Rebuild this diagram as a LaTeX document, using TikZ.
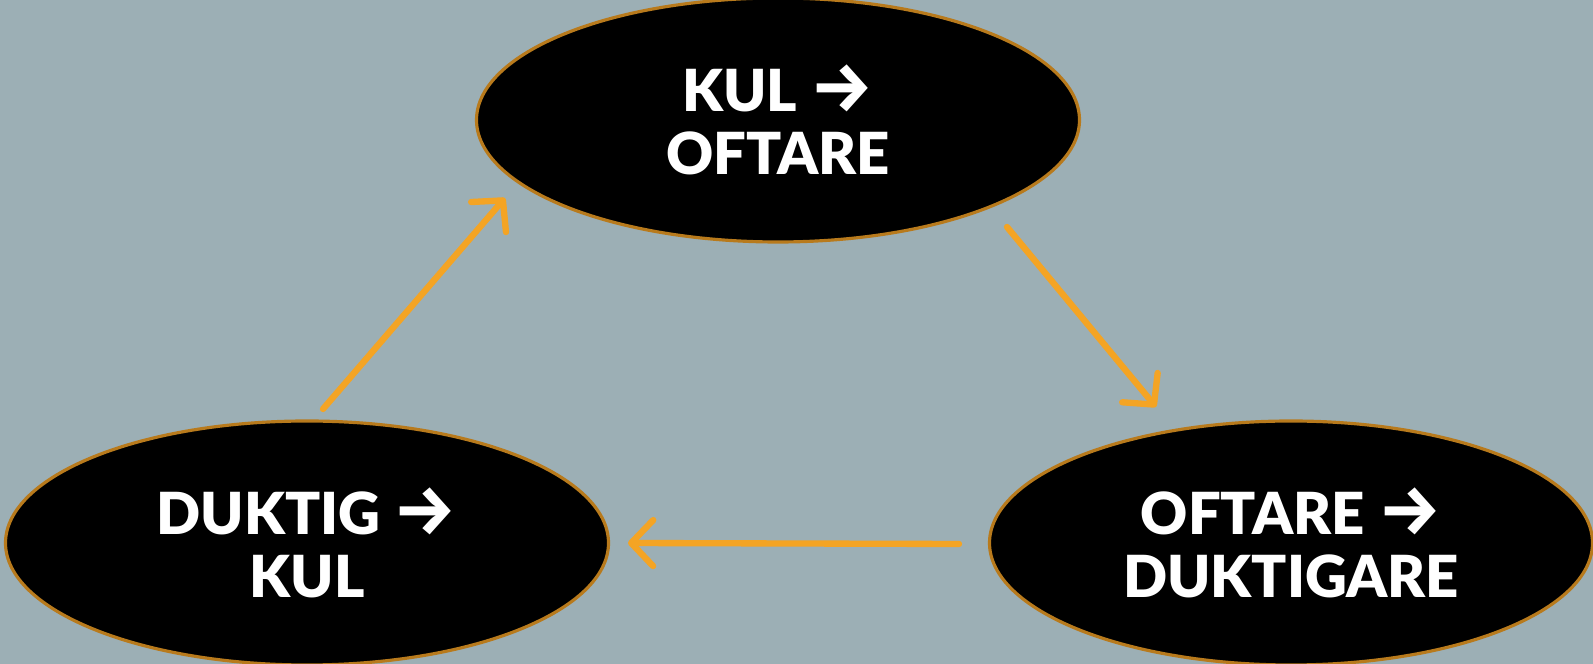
\documentclass[tikz,border=0pt]{standalone}
\usepackage{fontspec}
\setmainfont{Lato}[BoldFont={Lato Black}]
\newfontfamily\symfont{Fira Sans}
\usetikzlibrary{shapes,arrows.meta,positioning,calc}
\definecolor{bgslate}{RGB}{156,175,181}
\definecolor{arroworange}{RGB}{244,164,36}
\definecolor{rimbrown}{RGB}{184,122,28}
\newcommand{\rarrow}{{\symfont\bfseries\fontsize{20}{18}\selectfont →}}

\begin{document}
\begin{tikzpicture}[
	bubble/.style={ellipse,fill=black,draw=rimbrown,line width=0.9pt,minimum width=6.03cm,minimum height=2.44cm,inner sep=0pt,text=white,align=center,font=\fontsize{16.5}{18}\selectfont\bfseries},
	cyclearrow/.style={draw=arroworange,line width=1.8pt,line cap=round,-{Straight Barb[length=2.2mm,width=4.6mm,round]}}]
	% background and margins
	\fill[bgslate] (0,0) rectangle (15.93,6.64);
	\useasboundingbox (0,0) rectangle (15.93,6.64);
	%% the three steps
	\node[bubble] (kul) at (7.78,5.44) {KUL \rarrow\\OFTARE};
	\node[bubble] (duktig) at (3.07,1.21) {DUKTIG \rarrow\\KUL};
	\node[bubble] (oftare) at (12.91,1.21) {OFTARE \rarrow\\DUKTIGARE};
	%% the cycle
	\draw[cyclearrow] ($(duktig)+(0.16,1.34)$) -- ($(kul)+(-2.73,-0.78)$);
	\draw[cyclearrow] ($(kul)+(2.29,-1.07)$) -- ($(oftare)+(-1.35,1.36)$);
	\draw[cyclearrow] ($(oftare)+(-3.32,-0.01)$) -- ($(duktig)+(3.21,0)$);
\end{tikzpicture}
\end{document}
